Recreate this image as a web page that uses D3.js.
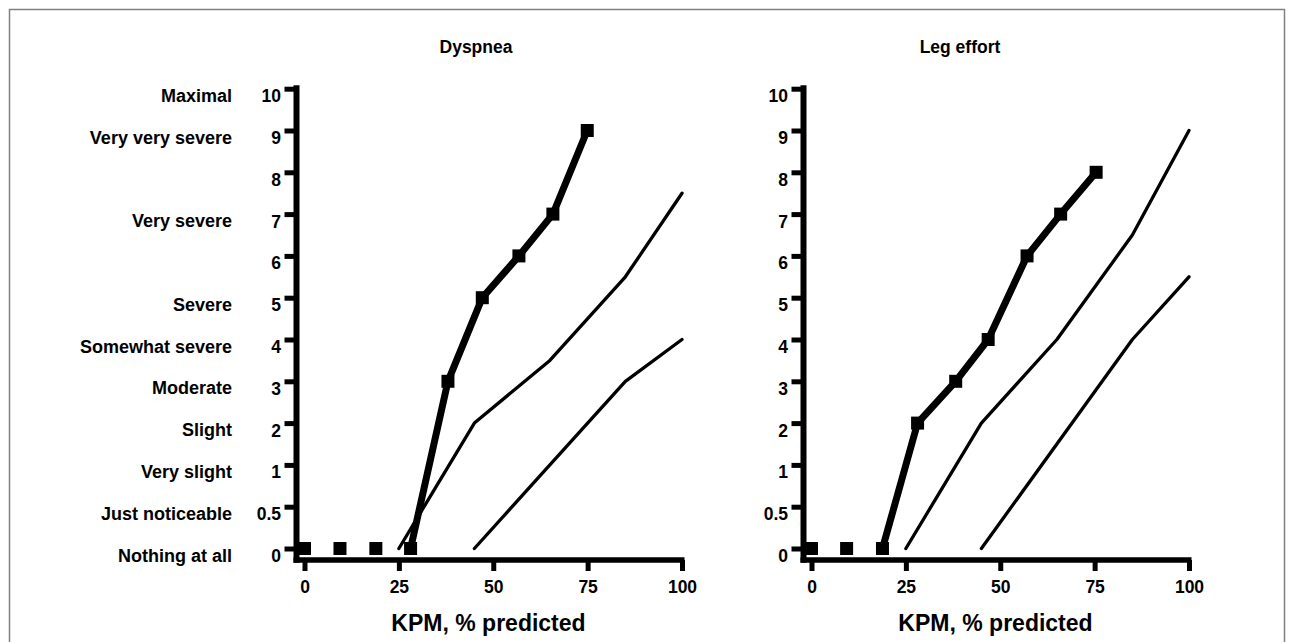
<!DOCTYPE html>
<html>
<head>
<meta charset="utf-8">
<script src="https://cdn.jsdelivr.net/npm/d3@7"></script>
<style>
  body { margin: 0; background: #fff; }
  text { font-family: "Liberation Sans", Arial, sans-serif; font-weight: bold; fill: #000; }
</style>
</head>
<body>
<div id="chart"></div>
<script>
// Borg scale ticks and verbal anchors
const yTickValues = [0, 0.5, 1, 2, 3, 4, 5, 6, 7, 8, 9, 10];
const borgLabels = ["Nothing at all", "Just noticeable", "Very slight", "Slight", "Moderate",
    "Somewhat severe", "Severe", "", "Very severe", "", "Very very severe", "Maximal"];
const xTickValues = [0, 25, 50, 75, 100];

// Dyspnea panel
const dyspneaKpm = [0, 9.4, 18.9, 28.1, 38, 47.1, 56.8, 65.8, 74.9];
const dyspneaScore = [0, 0, 0, 0, 3, 5, 6, 7, 9];
const dyspneaLineStart = 3;
const dyspneaUpperKpm = [25, 45, 65, 85, 100];
const dyspneaUpperScore = [0, 2, 3.5, 5.5, 7.5];
const dyspneaLowerKpm = [45, 65, 85, 100];
const dyspneaLowerScore = [0, 1, 3, 4];

// Leg effort panel
const legKpm = [0, 9.3, 18.8, 28.1, 38.2, 46.8, 57.1, 66, 75.4];
const legScore = [0, 0, 0, 2, 3, 4, 6, 7, 8];
const legLineStart = 2;
const legUpperKpm = [25, 45, 65, 85, 100];
const legUpperScore = [0, 2, 4, 6.5, 9];
const legLowerKpm = [45, 85, 100];
const legLowerScore = [0, 4, 5.5];

const W = 1290, H = 642;
const svg = d3.select("#chart").append("svg")
    .attr("width", W)
    .attr("height", H);

svg.append("rect")
    .attr("x", 9.5).attr("y", 9.5)
    .attr("width", 1275).attr("height", 700)
    .attr("fill", "none")
    .attr("stroke", "#808080")
    .attr("stroke-width", 1.5);

// shared vertical layout: evenly spaced categories 0, 0.5, 1..10
const y0 = 548.5, step = 41.8;
const y = d3.scaleLinear()
    .domain([0, 0.5, 1, 10])
    .range([y0, y0 - step, y0 - 2 * step, y0 - 11 * step]);
const axisY = 560;

const zip = (xs, ys) => xs.map((v, i) => ({ x: v, y: ys[i] }));

function drawPanel(left, title, titleX, pts, lineStart, upper, lower, withLabels) {
    const x = d3.scaleLinear().domain([0, 100]).range([left, left + 377.5]);
    const spineX = left - 8;
    const g = svg.append("g");

    // y ticks + labels
    const yAxis = d3.axisLeft(y).tickValues(yTickValues).tickSize(12).tickSizeOuter(0)
        .tickFormat(d => d);
    const ya = g.append("g").attr("transform", `translate(${spineX},0)`).call(yAxis);
    ya.select(".domain").remove();
    ya.selectAll(".tick line").attr("stroke", "#000").attr("stroke-width", 5);
    ya.selectAll(".tick text")
        .attr("x", -15.5).attr("dy", null).attr("y", 13)
        .style("font-size", "17.5px");

    // x ticks + labels
    const xAxis = d3.axisBottom(x).tickValues(xTickValues).tickSize(11).tickSizeOuter(0);
    const xa = g.append("g").attr("transform", `translate(0,${axisY})`).call(xAxis);
    xa.select(".domain").remove();
    xa.selectAll(".tick line").attr("stroke", "#000").attr("stroke-width", 5);
    xa.selectAll(".tick text")
        .attr("dy", null).attr("y", 33)
        .style("font-size", "17.5px");

    // spines
    g.append("line")
        .attr("x1", spineX).attr("x2", spineX)
        .attr("y1", y(10) - 3.5).attr("y2", axisY + 2.75)
        .attr("stroke", "#000").attr("stroke-width", 6);
    g.append("line")
        .attr("x1", spineX - 3).attr("x2", x(100) + 2.5)
        .attr("y1", axisY).attr("y2", axisY)
        .attr("stroke", "#000").attr("stroke-width", 5.5);

    if (withLabels) {
        g.selectAll(".borg")
            .data(yTickValues.map((v, i) => ({ v, label: borgLabels[i] })).filter(d => d.label))
            .enter().append("text")
            .attr("class", "borg")
            .attr("x", 232)
            .attr("y", d => y(d.v) + 13)
            .attr("text-anchor", "end")
            .style("font-size", "18px")
            .text(d => d.label);
    }

    g.append("text")
        .attr("x", titleX).attr("y", 53)
        .attr("text-anchor", "middle")
        .style("font-size", "17.5px")
        .text(title);

    g.append("text")
        .attr("x", left + 184).attr("y", 631)
        .attr("text-anchor", "middle")
        .style("font-size", "23px")
        .text("KPM, % predicted");

    const line = d3.line().x(d => x(d.x)).y(d => y(d.y));

    [upper, lower].forEach(s => {
        g.append("path")
            .datum(s)
            .attr("d", line)
            .attr("fill", "none")
            .attr("stroke", "#000")
            .attr("stroke-width", 3.3)
            .attr("stroke-linejoin", "round")
            .attr("stroke-linecap", "round");
    });

    g.append("path")
        .datum(pts.slice(lineStart))
        .attr("d", line)
        .attr("fill", "none")
        .attr("stroke", "#000")
        .attr("stroke-width", 7)
        .attr("stroke-linejoin", "round");

    g.selectAll(".pt")
        .data(pts)
        .enter().append("rect")
        .attr("class", "pt")
        .attr("x", d => x(d.x) - 6.5)
        .attr("y", d => y(d.y) - 6.5)
        .attr("width", 13).attr("height", 13)
        .attr("fill", "#000");
}

drawPanel(304.5, "Dyspnea", 476, zip(dyspneaKpm, dyspneaScore), dyspneaLineStart,
    zip(dyspneaUpperKpm, dyspneaUpperScore), zip(dyspneaLowerKpm, dyspneaLowerScore), true);
drawPanel(811.5, "Leg effort", 960, zip(legKpm, legScore), legLineStart,
    zip(legUpperKpm, legUpperScore), zip(legLowerKpm, legLowerScore), false);
</script>
</body>
</html>
